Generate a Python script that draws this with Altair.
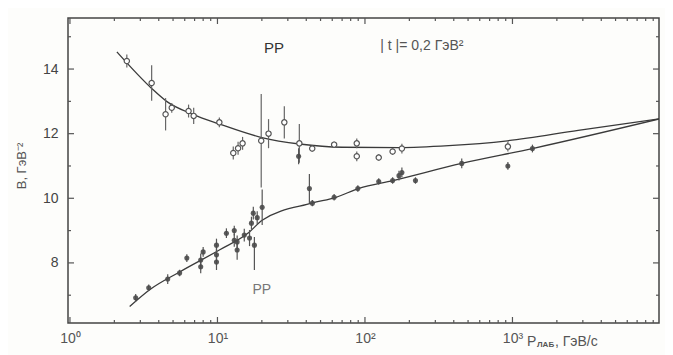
import altair as alt
import pandas as pd

# ---- data ----
upper_p = [2.43, 3.58, 4.45, 4.9, 6.37, 6.9, 10.3, 12.8, 13.8, 14.8, 19.8, 22.2, 28.4, 35.9,
           43.9, 61.8, 88, 88, 124, 154, 178, 931]
upper_B = [14.25, 13.57, 12.6, 12.8, 12.7, 12.55, 12.35, 11.4, 11.55, 11.7, 11.78, 12.0, 12.35, 11.7,
           11.54, 11.66, 11.7, 11.3, 11.26, 11.45, 11.54, 11.6]
upper_err = [0.2, 0.55, 0.5, 0.15, 0.2, 0.25, 0.15, 0.2, 0.2, 0.2, 1.45, 0.45, 0.5, 0.6,
             0.1, 0.1, 0.15, 0.15, 0.1, 0.1, 0.15, 0.15]

lower_p = [2.79, 3.42, 4.6, 5.54, 6.2, 7.7, 7.7, 8.0, 9.85, 9.85, 9.85, 11.5, 13.0, 13.0, 13.6, 13.6,
           15.2, 16.5, 17.0, 17.5, 17.8, 18.6, 20.1, 35.5, 42, 44, 61.8, 89.5, 124, 154, 170, 178,
           220, 453, 931, 1366]
lower_B = [6.92, 7.23, 7.5, 7.69, 8.15, 8.09, 7.88, 8.34, 8.55, 8.25, 8.03, 8.92, 9.0, 8.7, 8.65, 8.4,
           8.86, 8.77, 9.23, 9.54, 8.55, 9.4, 9.72, 11.3, 10.3, 9.85, 10.03, 10.3, 10.52, 10.55, 10.7, 10.8,
           10.55, 11.08, 11.0, 11.54]
lower_lo = [0.12, 0.1, 0.15, 0.1, 0.12, 0.2, 0.2, 0.15, 0.2, 0.2, 0.25, 0.15, 0.15, 0.2, 0.2, 0.3,
            0.2, 0.25, 0.2, 0.2, 0.77, 0.2, 0.55, 0.25, 0.45, 0.1, 0.1, 0.1, 0.1, 0.1, 0.15, 0.15,
            0.1, 0.15, 0.12, 0.12]
lower_hi = [0.12, 0.1, 0.15, 0.1, 0.12, 0.2, 0.2, 0.15, 0.2, 0.2, 0.25, 0.15, 0.15, 0.2, 0.2, 0.3,
            0.2, 0.25, 0.2, 0.2, 0.25, 0.2, 0.55, 0.25, 0.45, 0.1, 0.1, 0.1, 0.1, 0.1, 0.15, 0.15,
            0.1, 0.15, 0.12, 0.12]

upper_curve_p = [2.08, 3.58, 4.52, 6.8, 10.3, 20, 36, 70, 170, 370, 925, 2790, 10000]
upper_curve_B = [14.53, 13.4, 13.0, 12.6, 12.3, 11.88, 11.68, 11.58, 11.57, 11.63, 11.78, 12.1, 12.46]
lower_curve_p = [2.54, 3.47, 5.54, 10.3, 16.4, 20.1, 43.8, 63.7, 91, 155, 452, 1365, 10000]
lower_curve_B = [6.65, 7.17, 7.72, 8.4, 8.95, 9.32, 9.85, 10.03, 10.31, 10.55, 11.08, 11.54, 12.46]

x_major = [1, 10, 100, 1000, 10000]
x_minor = [m * 10 ** k for k in range(4) for m in range(2, 10)]
y_major = [8, 10, 12, 14]
y_minor = [7, 9, 11, 13, 15]

ann_text = ["PP", "| t |= 0,2 ГэВ²", "PP"]
ann_p = [24.2, 243, 20.0]
ann_B = [14.65, 14.7, 7.15]
ann_size = [15, 14, 14]
ann_color = ["#333333", "#555555", "#777777"]

# ---- layout ----
W, H = 591, 305
XDOM = [0.97, 9850]
YDOM = [6.14, 15.58]
FONT = "Liberation Sans"
INK = "#3a3a3a"

xs = alt.Scale(type="log", domain=XDOM, nice=False)
ys = alt.Scale(domain=YDOM, nice=False, zero=False)

up = pd.DataFrame({"p": upper_p, "B": upper_B,
                   "lo": [b - e for b, e in zip(upper_B, upper_err)],
                   "hi": [b + e for b, e in zip(upper_B, upper_err)]})
lw = pd.DataFrame({"p": lower_p, "B": lower_B,
                   "lo": [b - e for b, e in zip(lower_B, lower_lo)],
                   "hi": [b + e for b, e in zip(lower_B, lower_hi)]})
uc = pd.DataFrame({"p": upper_curve_p, "B": upper_curve_B})
lc = pd.DataFrame({"p": lower_curve_p, "B": lower_curve_B})
ann = pd.DataFrame({"t": ann_text, "p": ann_p, "B": ann_B, "s": ann_size, "c": ann_color})

X = alt.X("p:Q", scale=xs, axis=alt.Axis(values=x_major, ticks=False, domain=False, grid=False,
          title=None, labelFont=FONT, labelFontSize=14, labelColor="#555555", labelPadding=8,
          labelExpr="'10' + ['⁰','¹','²','³','⁴'][round(log(datum.value)/LN10)]"))
Y = alt.Y("B:Q", scale=ys, axis=alt.Axis(values=y_major, ticks=False, domain=False, grid=False,
          title=None, labelFont=FONT, labelFontSize=14, labelColor="#444444", labelPadding=10))

base_axes = alt.Chart(uc).mark_line(color=INK, strokeWidth=1.3, clip=True, interpolate="monotone").encode(x=X, y=Y)
lower_line = alt.Chart(lc).mark_line(color=INK, strokeWidth=1.3, clip=True, interpolate="monotone").encode(
    x=alt.X("p:Q", scale=xs), y=alt.Y("B:Q", scale=ys))

err_u = alt.Chart(up).mark_rule(color="#666666", strokeWidth=1.2).encode(
    x=alt.X("p:Q", scale=xs), y=alt.Y("lo:Q", scale=ys), y2="hi:Q")
err_l = alt.Chart(lw).mark_rule(color="#555555", strokeWidth=1.2).encode(
    x=alt.X("p:Q", scale=xs), y=alt.Y("lo:Q", scale=ys), y2="hi:Q")
pts_u = alt.Chart(up).mark_point(shape="circle", size=28, filled=True, fill="white",
                                 stroke="#555555", strokeWidth=1.2, opacity=1).encode(
    x=alt.X("p:Q", scale=xs), y=alt.Y("B:Q", scale=ys))
pts_l = alt.Chart(lw).mark_point(shape="circle", size=26, filled=True, color="#4a4a4a", opacity=0.9).encode(
    x=alt.X("p:Q", scale=xs), y=alt.Y("B:Q", scale=ys))

anns = alt.Chart(ann).mark_text(font=FONT, align="center", baseline="middle").encode(
    x=alt.X("p:Q", scale=xs), y=alt.Y("B:Q", scale=ys), text="t:N",
    size=alt.Size("s:Q", scale=None, legend=None), color=alt.Color("c:N", scale=None, legend=None))

# inward ticks on all four sides
tick_c = "#555555"
xmaj = pd.DataFrame({"v": x_major})
xmin = pd.DataFrame({"v": x_minor})
ymaj = pd.DataFrame({"v": y_major})
ymin = pd.DataFrame({"v": y_minor})

def xticks(df, L):
    b = alt.Chart(df).mark_rule(color=tick_c, strokeWidth=1.2, clip=True)
    return (b.encode(x=alt.X("v:Q", scale=xs), y=alt.value(H), y2=alt.value(H - L)) +
            b.encode(x=alt.X("v:Q", scale=xs), y=alt.value(0), y2=alt.value(L)))

def yticks(df, L):
    b = alt.Chart(df).mark_rule(color=tick_c, strokeWidth=1.2)
    return (b.encode(y=alt.Y("v:Q", scale=ys), x=alt.value(0), x2=alt.value(L)) +
            b.encode(y=alt.Y("v:Q", scale=ys), x=alt.value(W), x2=alt.value(W - L)))

ticks = xticks(xmaj, 6) + xticks(xmin, 3) + yticks(ymaj, 6) + yticks(ymin, 3)

# axis titles
ytitle = alt.Chart(pd.DataFrame({"t": ["B, ГэВ⁻²"]})).mark_text(
    font=FONT, fontSize=13, color="#555555", angle=270, align="center", baseline="middle").encode(
    text="t:N", x=alt.value(-46), y=alt.value(148))
xt1 = alt.Chart(pd.DataFrame({"t": ["P"]})).mark_text(
    font=FONT, fontSize=14, color="#555555", align="left", baseline="alphabetic").encode(
    text="t:N", x=alt.value(459), y=alt.value(328))
xt2 = alt.Chart(pd.DataFrame({"t": ["ЛАБ"]})).mark_text(
    font=FONT, fontSize=8, fontWeight="bold", color="#555555", align="left", baseline="alphabetic").encode(
    text="t:N", x=alt.value(469), y=alt.value(329))
xt3 = alt.Chart(pd.DataFrame({"t": [", ГэВ/с"]})).mark_text(
    font=FONT, fontSize=14, color="#555555", align="left", baseline="alphabetic").encode(
    text="t:N", x=alt.value(487), y=alt.value(328))

chart = alt.layer(base_axes, lower_line, err_u, err_l, pts_u, pts_l, anns, ticks,
                  ytitle, xt1, xt2, xt3).properties(
    width=W, height=H, autosize=alt.AutoSizeParams(type="none"),
    padding={"left": 60, "top": 10, "right": 6, "bottom": 32},
    background="#fdfdfb",
).configure_view(stroke="#444444", strokeWidth=1.5)

chart.save("out.html", embed_options={"renderer": "svg", "actions": False})
